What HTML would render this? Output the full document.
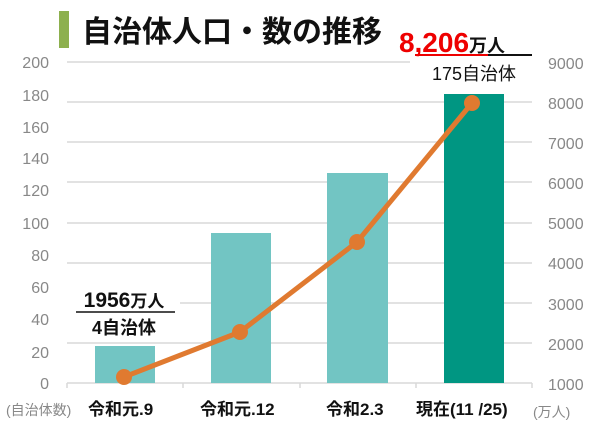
<!DOCTYPE html>
<html><head><meta charset="utf-8"><style>
body{margin:0;width:600px;height:436px;background:#fff;overflow:hidden;font-family:"Liberation Sans","Noto Sans CJK JP",sans-serif}
</style></head><body>
<svg width="600" height="436" xmlns="http://www.w3.org/2000/svg" font-family="Liberation Sans, Noto Sans CJK JP, sans-serif">
<rect x="59" y="11" width="10" height="37" fill="#8db04e"/>
<text x="82" y="42" font-size="30" font-weight="bold" fill="#111" font-family="Noto Sans CJK JP, sans-serif">自治体人口・数の推移</text>
<g stroke="#d9d9d9" stroke-width="1.5">
<line x1="67" y1="62" x2="410" y2="62"/>
<line x1="67" y1="102" x2="532" y2="102"/>
<line x1="67" y1="142" x2="532" y2="142"/>
<line x1="67" y1="182" x2="532" y2="182"/>
<line x1="67" y1="223" x2="532" y2="223"/>
<line x1="67" y1="263" x2="532" y2="263"/>
<line x1="180" y1="303" x2="532" y2="303"/>
<line x1="67" y1="343" x2="532" y2="343"/>
<line x1="67" y1="383" x2="532" y2="383"/>
<line x1="67" y1="383" x2="67" y2="388"/><line x1="183" y1="383" x2="183" y2="388"/><line x1="300" y1="383" x2="300" y2="388"/><line x1="416" y1="383" x2="416" y2="388"/><line x1="532" y1="383" x2="532" y2="388"/>
</g>
<g fill="#72c5c3">
<rect x="95" y="346" width="60" height="37"/>
<rect x="211" y="233" width="60" height="150"/>
<rect x="327" y="173" width="61" height="210"/>
</g>
<rect x="444" y="94" width="60" height="289" fill="#009682"/>
<polyline points="124,377 240,332 357,242 472,103" fill="none" stroke="#e07a30" stroke-width="5" stroke-linejoin="round"/>
<g fill="#e07a30"><circle cx="124" cy="377" r="8"/><circle cx="240" cy="332" r="8"/><circle cx="357" cy="242" r="8"/><circle cx="472" cy="103" r="8"/></g>
<g fill="#888" font-size="16" text-anchor="end">
<text x="49" y="68">200</text><text x="49" y="101">180</text><text x="49" y="133">160</text><text x="49" y="164">140</text><text x="49" y="196">120</text><text x="49" y="229">100</text><text x="49" y="261">80</text><text x="49" y="293">60</text><text x="49" y="325">40</text><text x="49" y="358">20</text><text x="49" y="389">0</text>
</g>
<g fill="#888" font-size="16" text-anchor="start">
<text x="548" y="69">9000</text><text x="548" y="109">8000</text><text x="548" y="149">7000</text><text x="548" y="189">6000</text><text x="548" y="229">5000</text><text x="548" y="269">4000</text><text x="548" y="310">3000</text><text x="548" y="350">2000</text><text x="548" y="390">1000</text>
</g>
<g fill="#111" font-weight="bold" text-anchor="middle">
<text x="124" y="307" font-size="21">1956<tspan font-size="17">万人</tspan></text>
<line x1="76" y1="312" x2="175" y2="312" stroke="#111" stroke-width="1.5"/>
<text x="124" y="334" font-size="18">4自治体</text>
<text x="452" y="52" font-size="28" fill="#e00">8,206<tspan fill="#111" font-size="18">万人</tspan></text>
<line x1="415" y1="55" x2="488" y2="55" stroke="#e00" stroke-width="2"/>
<line x1="488" y1="55" x2="532" y2="55" stroke="#111" stroke-width="2"/>
<text x="474" y="80" font-size="18" font-weight="normal">175自治体</text>
</g>
<g font-size="17" fill="#111" font-weight="bold">
<text x="6" y="415" fill="#888" font-size="14" font-weight="normal">(自治体数)</text>
<text x="88" y="415">令和元.9</text>
<text x="200" y="415">令和元.12</text>
<text x="326" y="415">令和2.3</text>
<text x="416" y="415">現在(11 /25)</text>
<text x="533" y="417" fill="#888" font-size="14" font-weight="normal">(万人)</text>
</g>
</svg>
</body></html>
